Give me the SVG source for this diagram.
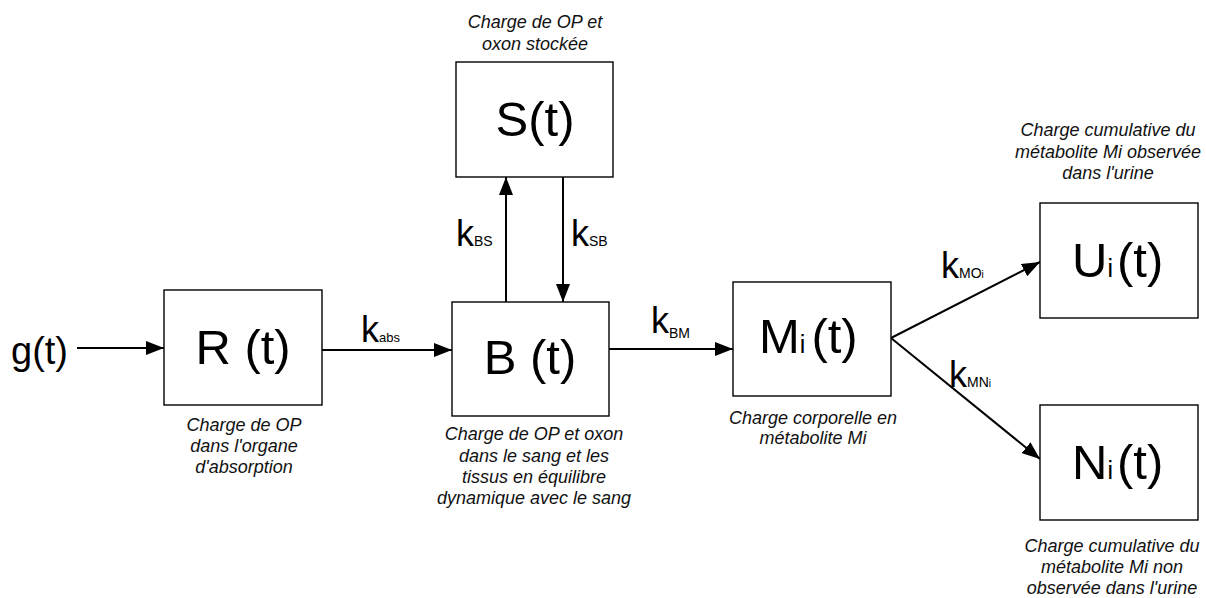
<svg xmlns="http://www.w3.org/2000/svg" width="1206" height="598" viewBox="0 0 1206 598">
<style>
.box{fill:#fff;stroke:#000;stroke-width:1.4}
.big{font-family:"Liberation Sans",Arial,sans-serif;font-size:49px;fill:#000}
.cap{font-family:"Liberation Sans",Arial,sans-serif;font-size:18px;font-style:italic;fill:#111;text-anchor:middle}
.k{font-family:"Liberation Sans",Arial,sans-serif;font-size:36px;fill:#000}
.sub{font-size:14px}
.conn{stroke:#000;stroke-width:2;fill:none;marker-end:url(#ah)}
</style>
<defs>
<marker id="ah" markerUnits="userSpaceOnUse" markerWidth="18" markerHeight="14" refX="18" refY="7" orient="auto">
<path d="M0,0 L18,7 L0,14 z" fill="#000"/>
</marker>
</defs>
<rect width="1206" height="598" fill="#fff"/>
<g id="connectors">
<line class="conn" x1="77" y1="348" x2="164" y2="348"/>
<line class="conn" x1="322" y1="350" x2="452" y2="350"/>
<line class="conn" x1="506" y1="302" x2="506" y2="177"/>
<line class="conn" x1="563" y1="177" x2="563" y2="302"/>
<line class="conn" x1="609" y1="349" x2="733" y2="349"/>
<line class="conn" x1="891" y1="338" x2="1040" y2="262"/>
<line class="conn" x1="891" y1="338" x2="1040" y2="459"/>
<text class="k" x="361" y="342">k<tspan font-size="13">abs</tspan></text>
<text class="k" x="456" y="246">k<tspan class="sub">BS</tspan></text>
<text class="k" x="571" y="246">k<tspan class="sub">SB</tspan></text>
<text class="k" x="651" y="333">k<tspan class="sub" dy="5">BM</tspan></text>
<text class="k" x="941" y="278">k<tspan class="sub">MO</tspan><tspan font-size="10">i</tspan></text>
<text class="k" x="949" y="387">k<tspan class="sub">MN</tspan><tspan font-size="10">i</tspan></text>
</g>
<g id="input">
<text class="big" x="11" y="364" style="font-size:38px">g(t)</text>
</g>
<g id="R">
<rect class="box" x="164" y="290" width="158" height="115"/>
<text class="big" x="243" y="364" text-anchor="middle">R (t)</text>
<text class="cap" x="244" y="431">Charge de OP</text>
<text class="cap" x="244" y="452">dans l'organe</text>
<text class="cap" x="244" y="473">d'absorption</text>
</g>
<g id="S">
<rect class="box" x="456" y="62" width="157" height="115"/>
<text class="big" x="535" y="136" text-anchor="middle">S(t)</text>
<text class="cap" x="535" y="28">Charge de OP et</text>
<text class="cap" x="535" y="50">oxon stockée</text>
</g>
<g id="B">
<rect class="box" x="452" y="302" width="157" height="114"/>
<text class="big" x="530" y="374" text-anchor="middle">B (t)</text>
<text class="cap" x="534" y="440">Charge de OP et oxon</text>
<text class="cap" x="534" y="462">dans le sang et les</text>
<text class="cap" x="534" y="483">tissus en équilibre</text>
<text class="cap" x="534" y="504">dynamique avec le sang</text>
</g>
<g id="M">
<rect class="box" x="733" y="282" width="158" height="114"/>
<text class="big" x="759" y="353">M<tspan font-size="25">i</tspan><tspan dx="6">(t)</tspan></text>
<text class="cap" x="813" y="424">Charge corporelle en</text>
<text class="cap" x="813" y="444">métabolite Mi</text>
</g>
<g id="U">
<rect class="box" x="1040" y="203" width="158" height="115"/>
<text class="big" x="1072" y="277">U<tspan font-size="25">i</tspan><tspan dx="4">(t)</tspan></text>
<text class="cap" x="1108" y="136">Charge cumulative du</text>
<text class="cap" x="1108" y="158">métabolite Mi observée</text>
<text class="cap" x="1108" y="179">dans l'urine</text>
</g>
<g id="N">
<rect class="box" x="1040" y="405" width="158" height="115"/>
<text class="big" x="1072" y="479">N<tspan font-size="25">i</tspan><tspan dx="4">(t)</tspan></text>
<text class="cap" x="1112" y="552">Charge cumulative du</text>
<text class="cap" x="1112" y="573">métabolite Mi non</text>
<text class="cap" x="1112" y="594">observée dans l'urine</text>
</g>
</svg>
